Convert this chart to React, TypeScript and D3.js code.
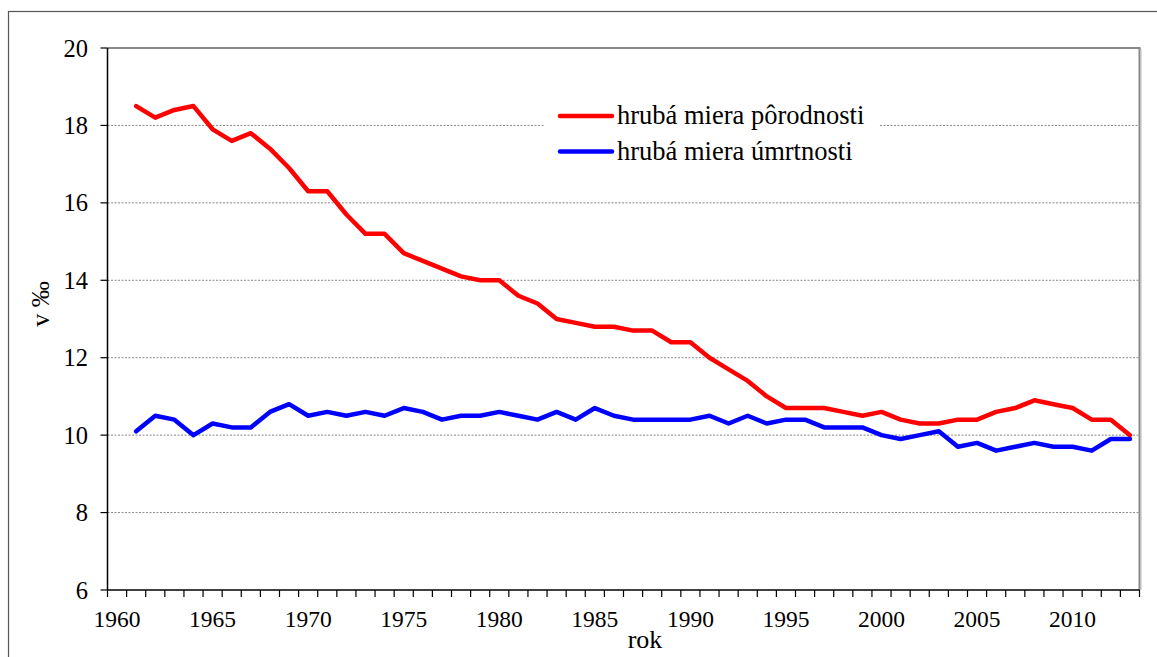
import React from "react";
import * as d3 from "d3";

// roky 1960–2013 (1960 bez údajov)
const years = d3.range(1960, 2014).map(String);
const dataYears = d3.range(1961, 2014);

const porodnost = [
  18.5, 18.2, 18.4, 18.5, 17.9, 17.6, 17.8, 17.4, 16.9, 16.3,
  16.3, 15.7, 15.2, 15.2, 14.7, 14.5, 14.3, 14.1, 14.0, 14.0,
  13.6, 13.4, 13.0, 12.9, 12.8, 12.8, 12.7, 12.7, 12.4, 12.4,
  12.0, 11.7, 11.4, 11.0, 10.7, 10.7, 10.7, 10.6, 10.5, 10.6,
  10.4, 10.3, 10.3, 10.4, 10.4, 10.6, 10.7, 10.9, 10.8, 10.7,
  10.4, 10.4, 10.0,
];

const umrtnost = [
  10.1, 10.5, 10.4, 10.0, 10.3, 10.2, 10.2, 10.6, 10.8, 10.5,
  10.6, 10.5, 10.6, 10.5, 10.7, 10.6, 10.4, 10.5, 10.5, 10.6,
  10.5, 10.4, 10.6, 10.4, 10.7, 10.5, 10.4, 10.4, 10.4, 10.4,
  10.5, 10.3, 10.5, 10.3, 10.4, 10.4, 10.2, 10.2, 10.2, 10.0,
  9.9, 10.0, 10.1, 9.7, 9.8, 9.6, 9.7, 9.8, 9.7, 9.7,
  9.6, 9.9, 9.9,
];

const yTicks = [6, 8, 10, 12, 14, 16, 18, 20];
const seriesNames = ["hrubá miera pôrodnosti", "hrubá miera úmrtnosti"];
const seriesColors = ["#ff0000", "#0000ff"];

const W = 1157;
const H = 657;
const left = 107.5;
const right = 1139.5;
const top = 48;
const bottom = 590;
const font = "Liberation Serif, Times New Roman, serif";

export default function App() {
  const x = d3.scaleBand<string>().domain(years).range([left, right]).padding(0);
  const y = d3.scaleLinear().domain([6, 20]).range([bottom, top]);

  const line = d3
    .line<number>()
    .x((_, i) => (x(String(dataYears[i])) as number) + x.bandwidth() / 2)
    .y((d) => y(d));

  const legX = 560;
  const legY = [116, 151.5];
  const gapL = 545;
  const gapR = 880;

  return (
    <svg
      width={W}
      height={H}
      style={{ position: "absolute", left: 0, top: 0, background: "#fff", fontFamily: font }}
    >
      {/* vonkajší rámček */}
      <rect x={8.5} y={11.5} width={W + 10} height={H + 10} fill="none" stroke="#555" strokeWidth={1.2} />

      {/* mriežka */}
      {yTicks
        .filter((t) => t !== 6 && t !== 20)
        .map((t) =>
          t === 18 ? (
            <g key={t}>
              <line x1={left} x2={gapL} y1={y(t)} y2={y(t)} stroke="#888" strokeDasharray="2,1.5" />
              <line x1={gapR} x2={right} y1={y(t)} y2={y(t)} stroke="#888" strokeDasharray="2,1.5" />
            </g>
          ) : (
            <line key={t} x1={left} x2={right} y1={y(t)} y2={y(t)} stroke="#888" strokeDasharray="2,1.5" />
          )
        )}

      {/* okraj plochy grafu */}
      <line x1={left} x2={right + 1} y1={top} y2={top} stroke="#888" strokeWidth={2} />
      <line x1={right} x2={right} y1={top} y2={bottom} stroke="#888" strokeWidth={2} />
      <line x1={right + 1.5} x2={right + 1.5} y1={top + 1} y2={bottom} stroke="#bbb" strokeWidth={1} />

      {/* os y */}
      <line x1={left} x2={left} y1={top} y2={bottom} stroke="#000" strokeWidth={1.5} />
      {yTicks.map((t) => (
        <g key={t}>
          <line x1={left - 7} x2={left} y1={y(t)} y2={y(t)} stroke="#000" strokeWidth={1.2} />
          <text x={88} y={y(t)} dy="0.35em" textAnchor="end" fontSize={24.5} fill="#000">
            {t}
          </text>
        </g>
      ))}

      {/* os x */}
      <line x1={left} x2={right} y1={bottom} y2={bottom} stroke="#000" strokeWidth={1.5} />
      {years.map((yr) => (
        <line
          key={yr}
          x1={x(yr) as number}
          x2={x(yr) as number}
          y1={bottom}
          y2={bottom + 7}
          stroke="#000"
          strokeWidth={1.2}
        />
      ))}
      <line x1={right} x2={right} y1={bottom} y2={bottom + 7} stroke="#000" strokeWidth={1.2} />
      {years
        .filter((yr) => +yr % 5 === 0)
        .map((yr) => (
          <text
            key={yr}
            x={(x(yr) as number) + x.bandwidth() / 2}
            y={626.5}
            textAnchor="middle"
            fontSize={23.5}
            fill="#000"
          >
            {yr}
          </text>
        ))}

      {/* názvy osí */}
      <text x={645} y={648} textAnchor="middle" fontSize={26} fill="#000">
        rok
      </text>
      <text
        transform={`translate(49,304) rotate(-90)`}
        textAnchor="middle"
        fontSize={26}
        fill="#000"
      >
        v ‰
      </text>

      {/* rady */}
      {[porodnost, umrtnost].map((s, i) => (
        <path
          key={i}
          d={line(s) as string}
          fill="none"
          stroke={seriesColors[i]}
          strokeWidth={4.5}
          strokeLinejoin="round"
          strokeLinecap="round"
        />
      ))}

      {/* legenda */}
      {seriesNames.map((n, i) => (
        <g key={n}>
          <line
            x1={legX}
            x2={legX + 52}
            y1={legY[i]}
            y2={legY[i]}
            stroke={seriesColors[i]}
            strokeWidth={4.5}
            strokeLinecap="round"
          />
          <text x={legX + 57} y={legY[i] + 8} fontSize={26.5} fill="#000">
            {n}
          </text>
        </g>
      ))}
    </svg>
  );
}
